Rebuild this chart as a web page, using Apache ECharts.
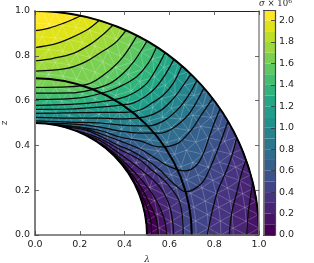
<!DOCTYPE html>
<html><head><meta charset="utf-8">
<style>html,body{margin:0;padding:0;background:#fff}#c{width:314px;height:263px}</style>
<script src="https://cdn.jsdelivr.net/npm/echarts@6/dist/echarts.min.js"></script>
</head><body><div id="c"></div>
<script>
// Contour lines, [lambda, z]
const c200=[[0,.912],[.067,.925],[.126,.945],[.179,.967],[.205,.979]];
const c190=[[0,.837],[.082,.851],[.156,.878],[.231,.915],[.286,.958]];
const c180=[[0,.777],[.082,.789],[.171,.811],[.246,.851],[.305,.896],[.348,.9375]];
const c170=[[0,.732],[.142,.744],[.223,.772],[.29,.8125],[.357,.857],[.406,.914]];
const c160=[[0,.659],[.142,.661],[.246,.677],[.335,.737],[.393,.795],[.455,.89]];
const c150=[[0,.633],[.156,.634],[.246,.647],[.335,.677],[.394,.722],[.446,.781],[.5,.866]];
const c140=[[0,.606],[.112,.607],[.223,.616],[.335,.644],[.394,.67],[.454,.707],[.506,.767],[.543,.84]];
const c130=[[0,.579],[.156,.583],[.29,.594],[.379,.61],[.439,.633],[.499,.677],[.543,.744],[.58,.814]];
const c120=[[0,.561],[.156,.5625],[.29,.571],[.379,.58],[.4375,.589],[.491,.617],[.536,.655],[.58,.714],[.62,.784]];
const c110=[[0,.543],[.156,.545],[.29,.547],[.402,.547],[.469,.558],[.522,.589],[.573,.625],[.617,.677],[.656,.756]];
const c100=[[0,.525],[.156,.522],[.29,.522],[.402,.518],[.491,.527],[.558,.554],[.612,.603],[.647,.647],[.696,.718]];
const c090=[[0,.51],[.156,.504],[.29,.5],[.402,.489],[.504,.487],[.58,.513],[.647,.571],[.692,.634],[.723,.691]];
const c080=[[.045,.498],[.156,.496],[.29,.482],[.379,.464],[.469,.455],[.558,.455],[.603,.469],[.647,.5],[.684,.536],[.722,.595],[.754,.656]];
const c070=[[.067,.4955],[.179,.484],[.29,.4665],[.379,.4375],[.469,.42],[.558,.393],[.603,.397],[.647,.415],[.705,.478],[.737,.528],[.793,.609]];
const c060=[[.089,.492],[.201,.48],[.29,.453],[.379,.42],[.469,.384],[.536,.344],[.603,.304],[.67,.286],[.72,.31],[.752,.365],[.775,.43],[.8,.5],[.826,.563]];
const c050=[[.12,.485],[.223,.469],[.29,.442],[.379,.397],[.424,.379],[.499,.335],[.558,.29],[.617,.231],[.674,.193],[.744,.231],[.781,.298],[.818,.387],[.8616,.5076]];
const c040inner=[[.179,.467],[.29,.431],[.379,.382],[.469,.335],[.521,.29],[.588,.232],[.647,.143],[.662,0]];
const c040outer=[[.769,0],[.789,.098],[.817,.201],[.856,.29],[.884,.371],[.9,.4359]];
const c030inner=[[.223,.447],[.29,.422],[.379,.362],[.469,.295],[.558,.214],[.603,.121],[.62,0]];
const c030outer=[[.867,0],[.878,.098],[.9,.1875],[.92,.268],[.942,.3356]];
const c020inner=[[.268,.422],[.3125,.397],[.379,.344],[.469,.254],[.536,.165],[.576,.076],[.588,0]];
const c020outer=[[.945,0],[.952,.098],[.972,.235]];
const c010inner=[[.3,.4],[.379,.335],[.469,.219],[.513,.138],[.54,.076],[.551,0]];
const c005inner=[[.37,.336],[.417,.279],[.455,.219],[.496,.134],[.516,.067],[.521,0]];
const contourLevels=[2,1.9,1.8,1.7,1.6,1.5,1.4,1.3,1.2,1.1,1,.9,.8,.7,.6,.5,.4,.4,.3,.3,.2,.2,.1,.05];
const contourLines=[c200,c190,c180,c170,c160,c150,c140,c130,c120,c110,c100,c090,c080,c070,c060,c050,c040inner,c040outer,c030inner,c030outer,c020inner,c020outer,c010inner,c005inner];
// Colour bands
const bandLow=[0,.1,.2,.3,.4,.5,.6,.7,.8,.9,1,1.1,1.2,1.3,1.4,1.5,1.6,1.7,1.8,1.9,2];
const barTop=2.093;
const bandColors=['#440154','#471365','#482475','#463480','#414487','#3b528b','#355f8d','#2f6c8e','#2a788e','#25848e','#21918c','#1f9e89','#22a884','#2fb47c','#44bf70','#5ec962','#7ad151','#9bd93c','#bddf26','#dfe318','#fde725'];
// Domain and mesh
const arcRadii=[.5,.7,1];
const meshRadii=[.5,.555,.61,.665,.72,.775,.83,.885,.945,1];
const meshCounts=[13,14,16,17,18,20,21,23,24,26];

const HALF=Math.PI/2;
function boundaryU(p){
  const r=Math.hypot(p[0],p[1]),a=Math.atan2(p[1],p[0]);
  if(p[0]<.001)return 3+(p[1]-.5)*2;
  if(p[1]<.001)return 1+(1-p[0])*2;
  return r>.75?(HALF-a)/HALF:2+a/HALF;
}
function boundaryPoint(u){
  if(u<=1){const a=HALF*(1-u);return [Math.cos(a),Math.sin(a)];}
  if(u<=2)return [1-(u-1)/2,0];
  if(u<=3){const a=HALF*(u-2);return [.5*Math.cos(a),.5*Math.sin(a)];}
  return [0,.5+(u-3)/2];
}
function walk(a,b){const o=[];for(let u=a;u<b;u+=.01)o.push(boundaryPoint(u));o.push(boundaryPoint(b));return o;}
const regions=[{band:20,pts:walk(0,4)}];
contourLines.forEach((pts,i)=>{
  const band=Math.max(0,Math.ceil(contourLevels[i]*10-1e-6)-1);
  const start=boundaryU(pts[0]),end=boundaryU(pts[pts.length-1]);
  regions.push({band,pts:pts.concat(walk(end,start))});
});
// staggered rings: every other ring is shifted half a step
const ringAngles=meshRadii.map((r,i)=>{
  const n=meshCounts[i],o=[0];
  if(i%2===0){for(let j=1;j<=n;j++)o.push(j/n);}
  else{for(let j=0;j<n;j++)o.push((j+.5)/n);o.push(1);}
  return o;
});
const meshEdges=[];
const ringNode=(i,j)=>{const a=HALF*ringAngles[i][j];return [meshRadii[i]*Math.cos(a),meshRadii[i]*Math.sin(a)];};
meshRadii.forEach((r,i)=>{
  const A=ringAngles[i];
  for(let j=0;j+1<A.length;j++)meshEdges.push([ringNode(i,j),ringNode(i,j+1)]);
  if(i===meshRadii.length-1)return;
  const B=ringAngles[i+1];let a=0,b=0;
  meshEdges.push([ringNode(i,0),ringNode(i+1,0)]);
  while(a<A.length-1||b<B.length-1){
    if(b>=B.length-1||(a<A.length-1&&A[a+1]<=B[b+1]))a++;else b++;
    meshEdges.push([ringNode(i,a),ringNode(i+1,b)]);
  }
});

const fontF='"DejaVu Sans"';
const spine=(color,width)=>({show:true,onZero:false,lineStyle:{color,width}});
const ticks={show:true,inside:true,length:4,lineStyle:{color:'#444',width:.8}};
const labels={show:true,color:'#222',fontFamily:fontF,fontSize:9.5,margin:5,formatter:v=>v.toFixed(1),showMinLabel:true,showMaxLabel:true};
const vAxis=o=>Object.assign({type:'value',min:0,max:1,interval:.2,splitLine:{show:false},z:5},o);
const option={
  animation:false,
  backgroundColor:'#fff',
  title:{left:259,top:-2,padding:0,text:'{i|σ}{t| × 10}{s|6}',textStyle:{fontWeight:'normal',rich:{
    i:{fontFamily:'"DejaVu Serif"',fontStyle:'italic',fontWeight:'normal',fontSize:8.5,color:'#222'},
    t:{fontFamily:'"DejaVu Serif"',fontWeight:'normal',fontSize:8.5,color:'#222'},
    s:{fontFamily:'"DejaVu Serif"',fontWeight:'normal',fontSize:6,color:'#222',verticalAlign:'top',lineHeight:11}}}},
  grid:[{left:35,top:11,width:224,height:224,outerBoundsMode:'none'},
        {left:263.5,top:10.6,width:11.5,height:224.4,outerBoundsMode:'none'}],
  xAxis:[
    vAxis({gridIndex:0,position:'bottom',axisLine:spine('#666',1.5),axisTick:ticks,axisLabel:labels,
      name:'λ',nameLocation:'middle',nameGap:20,nameMoveOverlap:false,nameTextStyle:{fontFamily:'"DejaVu Serif"',fontStyle:'italic',fontSize:9,color:'#333'}}),
    vAxis({gridIndex:0,position:'top',axisLine:spine('#222',1),axisTick:ticks,axisLabel:{show:false}}),
    {gridIndex:1,type:'value',min:0,max:1,show:true,position:'bottom',axisLine:spine('#444',1),axisTick:{show:false},axisLabel:{show:false},splitLine:{show:false},z:5},
    {gridIndex:1,type:'value',min:0,max:1,show:true,position:'top',axisLine:spine('#444',1),axisTick:{show:false},axisLabel:{show:false},splitLine:{show:false},z:5}
  ],
  yAxis:[
    vAxis({gridIndex:0,position:'left',axisLine:spine('#7f7f7f',2),axisTick:ticks,axisLabel:labels,
      name:'z',nameLocation:'middle',nameGap:26,nameMoveOverlap:false,nameRotate:90,nameTextStyle:{fontFamily:fontF,fontSize:9,color:'#333'}}),
    vAxis({gridIndex:0,position:'right',axisLine:spine('#8a8a8a',1.5),axisTick:ticks,axisLabel:{show:false}}),
    {gridIndex:1,type:'value',min:0,max:barTop,interval:.2,position:'right',splitLine:{show:false},z:5,
      axisLine:spine('#444',1.2),axisTick:{show:true,inside:true,length:4,lineStyle:{color:'#333',width:.8}},
      axisLabel:Object.assign({},labels,{margin:4,showMaxLabel:false,fontSize:9.5})},
    {gridIndex:1,type:'value',min:0,max:barTop,interval:.2,position:'left',splitLine:{show:false},z:5,
      axisLine:spine('#777',1.6),axisTick:{show:false},axisLabel:{show:false}}
  ],
  series:[
    {type:'custom',name:'fill',xAxisIndex:0,yAxisIndex:0,z:1,silent:true,clip:false,coordinateSystem:'cartesian2d',
      data:regions.map((r,i)=>[i]),
      renderItem:(p,api)=>{const r=regions[p.dataIndex];
        return {type:'polygon',shape:{points:r.pts.map(q=>api.coord(q))},style:{fill:bandColors[r.band],stroke:bandColors[r.band],lineWidth:.3}};}},
    {type:'custom',name:'mesh',xAxisIndex:0,yAxisIndex:0,z:2,silent:true,clip:false,coordinateSystem:'cartesian2d',
      data:meshEdges.map((e,i)=>[i]),
      renderItem:(p,api)=>{const e=meshEdges[p.dataIndex],a=api.coord(e[0]),b=api.coord(e[1]);
        return {type:'line',shape:{x1:a[0],y1:a[1],x2:b[0],y2:b[1]},style:{stroke:'rgba(255,255,255,.3)',lineWidth:.7}};}},
    ...contourLines.map((pts,i)=>({type:'line',name:'L'+contourLevels[i],xAxisIndex:0,yAxisIndex:0,z:3,silent:true,data:pts,
      showSymbol:false,smooth:.35,clip:true,lineStyle:{color:'#0a0a0a',width:1.25}})),
    {type:'custom',name:'arcs',xAxisIndex:0,yAxisIndex:0,z:4,silent:true,clip:true,coordinateSystem:'cartesian2d',
      data:arcRadii.map(r=>[r]),
      renderItem:(p,api)=>{const r=api.value(0),o=api.coord([0,0]),e=api.coord([r,0]);
        return {type:'arc',shape:{cx:o[0],cy:o[1],r:e[0]-o[0],startAngle:-HALF,endAngle:0,clockwise:true},style:{fill:null,stroke:'#000',lineWidth:2}};}},
    {type:'custom',name:'colorbar',xAxisIndex:2,yAxisIndex:2,z:1,silent:true,coordinateSystem:'cartesian2d',
      data:bandLow.map((v,i)=>[v,i+1<bandLow.length?bandLow[i+1]:barTop]),
      renderItem:(p,api)=>{const a=api.coord([0,api.value(0)]),b=api.coord([1,api.value(1)]);
        return {type:'rect',shape:{x:a[0],y:b[1],width:b[0]-a[0],height:a[1]-b[1]},style:{fill:bandColors[p.dataIndex]}};}}
  ]
};
echarts.init(document.getElementById('c'),null,{renderer:'canvas'}).setOption(option);
</script></body></html>
